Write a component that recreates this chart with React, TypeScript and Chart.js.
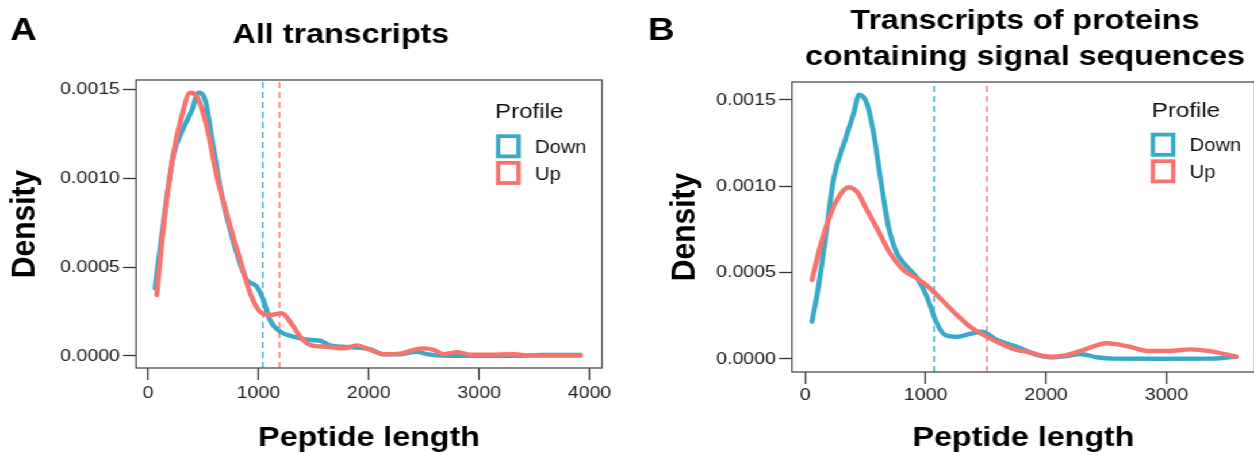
import React, { useEffect, useRef } from "react";
import { Chart, registerables } from "chart.js";

Chart.register(...registerables);

const FONT = '"Liberation Sans", Arial, Helvetica, sans-serif';
Chart.defaults.font.family = FONT;

// horizontal stretch of the reference figure
const S = 1.15;

const BLUE = "#38A9C6";
const RED = "#F6736F";
const SERIES = ["Down", "Up"];
const SERIES_COLORS = [BLUE, RED];
const LEGEND_TITLE = "Profile";
const X_TITLE = "Peptide length";
const Y_TITLE = "Density";

// ---------- Panel A: All transcripts ----------
const A_TITLE = ["All transcripts"];
const A_X_TICKS = [0, 1000, 2000, 3000, 4000];
const A_Y_TICKS = [0, 0.0005, 0.001, 0.0015];
const A_DOWN_X = [63, 154, 230, 320, 396, 456, 517, 577, 653, 743, 834, 895, 985, 1045, 1106, 1197, 1317, 1469, 1559, 1650, 1861, 2013, 2133, 2285, 2436, 2527, 2647, 2829, 3010, 3373, 3554, 3917];
const A_DOWN_Y = [0.000381, 0.000821, 0.00113, 0.00128, 0.00138, 0.00148, 0.00144, 0.00123, 0.00095, 0.00071, 0.00052, 0.000427, 0.00039, 0.000315, 0.0002, 0.000137, 0.000109, 0.00009, 0.000086, 0.00006, 0.000049, 0.000038, 0.00001, 0.00001, 0.000024, 0.00001, 0.000002, 0.000001, 0.000001, 0.000001, 0.000006, 0.000006];
const A_UP_X = [79, 154, 230, 305, 381, 441, 532, 623, 713, 834, 925, 1015, 1106, 1212, 1287, 1378, 1469, 1620, 1771, 1892, 2013, 2133, 2285, 2405, 2496, 2587, 2677, 2799, 2919, 3101, 3312, 3463, 3917];
const A_UP_Y = [0.000343, 0.000803, 0.00114, 0.00135, 0.00148, 0.00146, 0.00129, 0.00101, 0.0008, 0.00054, 0.000353, 0.000249, 0.000231, 0.00024, 0.000193, 0.000109, 0.000062, 0.000052, 0.000043, 0.00006, 0.000034, 0.00001, 0.000013, 0.000034, 0.000043, 0.000034, 0.00001, 0.000022, 0.000007, 0.000007, 0.00001, 0.000002, 0.000002];
const A_MEDIANS = [1040, 1190]; // Down, Up
const A_X_RANGE = [-109, 4113];
const A_Y_RANGE = [-0.0000675, 0.001552];

// ---------- Panel B: signal sequences ----------
const B_TITLE = ["Transcripts of proteins", "containing signal sequences"];
const B_X_TICKS = [0, 1000, 2000, 3000];
const B_Y_TICKS = [0, 0.0005, 0.001, 0.0015];
const B_DOWN_X = [56, 110, 166, 235, 332, 401, 448, 512, 567, 622, 691, 761, 844, 940, 1010, 1093, 1162, 1259, 1369, 1466, 1591, 1757, 1923, 2033, 2172, 2282, 2421, 2559, 3001, 3389, 3560];
const B_DOWN_Y = [0.000216, 0.000419, 0.000689, 0.00104, 0.00127, 0.00142, 0.00153, 0.00148, 0.00131, 0.00106, 0.000766, 0.000612, 0.000535, 0.000458, 0.000361, 0.000207, 0.000139, 0.000129, 0.000145, 0.000158, 0.00011, 0.000071, 0.000023, 0.00001, 0.000017, 0.000029, 0.00001, 0.000002, 0.000001, 0.000002, 0.000013];
const B_UP_X = [56, 124, 193, 263, 359, 429, 512, 595, 705, 816, 927, 1037, 1148, 1259, 1369, 1480, 1618, 1757, 1840, 2033, 2172, 2310, 2504, 2670, 2863, 3056, 3195, 3361, 3580];
const B_UP_Y = [0.000458, 0.00065, 0.000805, 0.00092, 0.000994, 0.000969, 0.000863, 0.000757, 0.000612, 0.000515, 0.000467, 0.000409, 0.000332, 0.000255, 0.000187, 0.000139, 0.000091, 0.000052, 0.000042, 0.000013, 0.000023, 0.000052, 0.000091, 0.000075, 0.000046, 0.000048, 0.000056, 0.000046, 0.000013];
const B_MEDIANS = [1070, 1508];
const B_X_RANGE = [-110, 3735];
const B_Y_RANGE = [-0.0000753, 0.001604];

type Panel = {
  letter: string;
  letterX: number;
  title: string[];
  titleX: number;
  titleBaselines: number[];
  xTicks: number[];
  yTicks: number[];
  series: { xs: number[]; ys: number[] }[];
  medians: number[];
  xRange: number[];
  yRange: number[];
  width: number;
  area: { left: number; right: number; top: number; bottom: number };
  yTitleOffset: number;
  xTickPad: number;
  legend: { titleX: number; titleY: number; keyX: number; keyTop: number };
};

const H = 455;

const PANELS: Panel[] = [
  {
    letter: "A",
    letterX: 8.7,
    title: A_TITLE,
    titleX: 296.5,
    titleBaselines: [43.3],
    xTicks: A_X_TICKS,
    yTicks: A_Y_TICKS,
    series: [
      { xs: A_DOWN_X, ys: A_DOWN_Y },
      { xs: A_UP_X, ys: A_UP_Y },
    ],
    medians: A_MEDIANS,
    xRange: A_X_RANGE,
    yRange: A_Y_RANGE,
    width: 540,
    area: { left: 118.3, right: 523.5, top: 80, bottom: 368 },
    yTitleOffset: 3.7,
    xTickPad: 3,
    legend: { titleX: 430.4, titleY: 117.7, keyX: 431.3, keyTop: 134.3 },
  },
  {
    letter: "B",
    letterX: 23.5,
    title: B_TITLE,
    titleX: 351.3,
    titleBaselines: [28.5, 65],
    xTicks: B_X_TICKS,
    yTicks: B_Y_TICKS,
    series: [
      { xs: B_DOWN_X, ys: B_DOWN_Y },
      { xs: B_UP_X, ys: B_UP_Y },
    ],
    medians: B_MEDIANS,
    xRange: B_X_RANGE,
    yRange: B_Y_RANGE,
    width: 552,
    area: { left: 148.7, right: 551.3, top: 82, bottom: 372 },
    yTitleOffset: 37.5,
    xTickPad: 1,
    legend: { titleX: 461.5, titleY: 116.5, keyX: 460.6, keyTop: 132.7 },
  },
];

function makeDecor(p: Panel) {
  return {
    id: "decor" + p.letter,
    afterDatasetsDraw(chart: any) {
      const { ctx, chartArea: ca } = chart;
      ctx.save();
      ctx.strokeStyle = "#4d4d4d";
      ctx.lineWidth = 1.3;
      ctx.strokeRect(ca.left, ca.top, ca.right - ca.left, ca.bottom - ca.top);
      ctx.restore();
    },
    afterDraw(chart: any) {
      const ctx = chart.ctx;
      ctx.save();
      ctx.fillStyle = "#000";
      ctx.textBaseline = "alphabetic";
      // panel letter
      ctx.font = `bold 32px ${FONT}`;
      ctx.textAlign = "left";
      ctx.fillText(p.letter, p.letterX, 39.5);
      // title
      ctx.font = `bold 28px ${FONT}`;
      ctx.textAlign = "center";
      p.title.forEach((t, i) => ctx.fillText(t, p.titleX, p.titleBaselines[i]));
      // legend
      const lg = p.legend;
      ctx.textAlign = "left";
      ctx.font = `21px ${FONT}`;
      ctx.fillStyle = "#111";
      ctx.fillText(LEGEND_TITLE, lg.titleX, lg.titleY);
      const keyW = 21.5;
      const keyH = 24;
      const step = 26.6;
      const lw = 3.8;
      ctx.font = `17.5px ${FONT}`;
      SERIES.forEach((name, i) => {
        const top = lg.keyTop + i * step;
        ctx.strokeStyle = SERIES_COLORS[i];
        ctx.lineWidth = lw;
        ctx.strokeRect(lg.keyX + lw / 2, top + lw / 2, keyW - lw, keyH - lw);
        ctx.fillStyle = "#111";
        ctx.fillText(name, lg.keyX + 34, top + keyH / 2 + 6.6);
      });
      ctx.restore();
    },
  };
}

function makeConfig(p: Panel): any {
  const curves = p.series.map((s, i) => ({
    label: SERIES[i],
    data: s.xs.map((x, j) => ({ x, y: s.ys[j] })),
    borderColor: SERIES_COLORS[i],
    backgroundColor: SERIES_COLORS[i],
    borderWidth: 4.4,
    pointRadius: 0,
    fill: false,
    cubicInterpolationMode: "monotone",
    borderCapStyle: "round",
    borderJoinStyle: "round",
  }));
  const vlines = p.medians.map((m, i) => ({
    label: SERIES[i] + " median",
    data: [
      { x: m, y: p.yRange[0] },
      { x: m, y: p.yRange[1] },
    ],
    borderColor: SERIES_COLORS[i],
    borderWidth: 1.4,
    borderDash: [6, 4],
    pointRadius: 0,
    fill: false,
  }));
  // dataset 0 is drawn on top: Up curve, Down curve, dashed lines
  const datasets = [curves[1], curves[0], vlines[1], vlines[0]];
  const a = p.area;
  return {
    type: "line",
    data: { datasets },
    options: {
      animation: false,
      responsive: false,
      devicePixelRatio: 1,
      events: [],
      layout: { padding: { left: 0, right: p.width - a.right, top: a.top, bottom: 0 } },
      plugins: { legend: { display: false }, tooltip: { enabled: false }, title: { display: false } },
      scales: {
        x: {
          type: "linear",
          position: "bottom",
          min: p.xRange[0],
          max: p.xRange[1],
          afterBuildTicks: (s: any) => {
            s.ticks = p.xTicks.map((v) => ({ value: v }));
          },
          afterFit: (s: any) => {
            s.height = H - a.bottom;
          },
          ticks: {
            autoSkip: false,
            maxRotation: 0,
            padding: p.xTickPad,
            color: "#222",
            font: { size: 17 },
            callback: (v: any) => String(v),
          },
          grid: {
            drawOnChartArea: false,
            drawTicks: true,
            tickLength: 12,
            tickWidth: 1.3,
            tickColor: "#333",
            color: "#333",
          },
          border: { display: false },
          title: {
            display: true,
            text: X_TITLE,
            color: "#000",
            font: { size: 28, weight: "bold" },
            padding: { top: 0, bottom: 0 },
          },
        },
        y: {
          type: "linear",
          position: "left",
          min: p.yRange[0],
          max: p.yRange[1],
          afterBuildTicks: (s: any) => {
            s.ticks = p.yTicks.map((v) => ({ value: v }));
          },
          afterFit: (s: any) => {
            s.width = a.left;
          },
          ticks: {
            autoSkip: false,
            padding: 2.7,
            color: "#222",
            font: { size: 17 },
            callback: (v: any) => Number(v).toFixed(4),
          },
          grid: {
            drawOnChartArea: false,
            drawTicks: true,
            tickLength: 11.3,
            tickWidth: 1.3,
            tickColor: "#333",
            color: "#333",
          },
          border: { display: false },
          title: {
            display: true,
            text: Y_TITLE,
            color: "#000",
            font: { size: 30, weight: "bold" },
            padding: { top: p.yTitleOffset, bottom: 0 },
          },
        },
      },
    },
    plugins: [makeDecor(p)],
  };
}

function PanelCanvas({ panel, left }: { panel: Panel; left: number }) {
  const ref = useRef<HTMLCanvasElement | null>(null);
  useEffect(() => {
    if (!ref.current) return;
    const chart = new Chart(ref.current, makeConfig(panel));
    return () => chart.destroy();
  }, [panel]);
  return (
    <canvas
      ref={ref}
      width={panel.width}
      height={H}
      style={{ position: "absolute", left, top: 0, width: panel.width, height: H, display: "block" }}
    />
  );
}

export default function App() {
  return (
    <div
      style={{
        position: "absolute",
        left: 0,
        top: 0,
        width: 1254,
        height: H,
        overflow: "hidden",
        background: "#fff",
      }}
    >
      <div
        style={{
          position: "absolute",
          left: 0,
          top: 0,
          width: 1092,
          height: H,
          transform: `scaleX(${S})`,
          transformOrigin: "0 0",
        }}
      >
        <PanelCanvas panel={PANELS[0]} left={0} />
        <PanelCanvas panel={PANELS[1]} left={540} />
      </div>
    </div>
  );
}
